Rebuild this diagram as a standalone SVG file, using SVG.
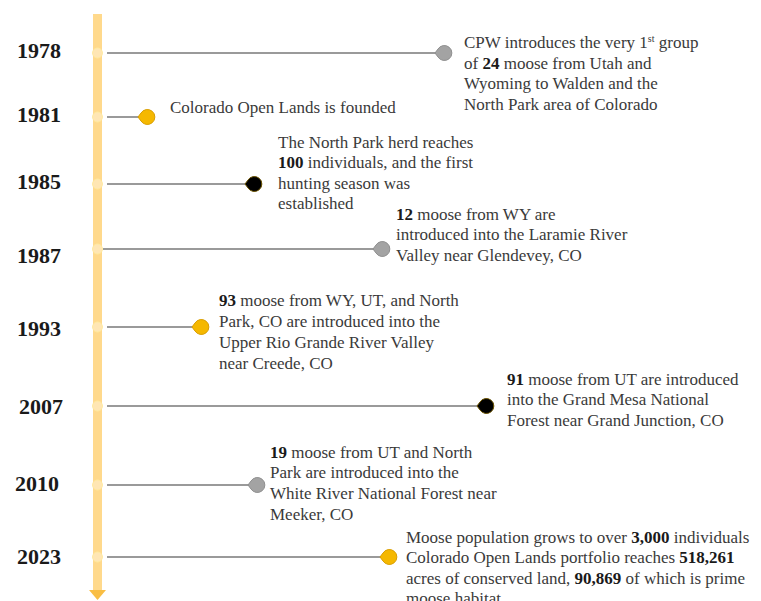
<svg xmlns="http://www.w3.org/2000/svg" width="761" height="601" viewBox="0 0 761 601">
<style>
.yr{font-family:"Liberation Serif","Times New Roman",serif;font-weight:bold;font-size:22px;fill:#1a1a1a}
.tx{font-family:"Liberation Serif","Times New Roman",serif;font-size:17px;fill:#3a3a3a}
.tx tspan.b{font-weight:bold;fill:#1a1a1a}
.ln{stroke:#9a9a9a;stroke-width:2;fill:none}
.ax{fill:#fff;fill-opacity:0.35;stroke:#ffeaa0;stroke-width:1}
.gray{fill:#a3a3a3;stroke:#8f8f8f;stroke-width:1}
.gold{fill:#f5b800;stroke:#d99e00;stroke-width:1}
.blk{fill:#000;stroke:#6b5300;stroke-width:1}
</style>
<defs>
<path id="pin" d="M-9,0 L-6,-4 A7.5,7.5 0 1 1 -6,4 Z"/>
</defs>
<g id="axis">
<rect x="93" y="14" width="9" height="580" fill="#ffd98c"/>
<path d="M89,590 L106,590 L97.5,600 Z" fill="#f9be44"/>
</g>
<g id="connectors">
<line class="ln" x1="107" y1="53" x2="436" y2="53"/>
<line class="ln" x1="107" y1="117" x2="139" y2="117"/>
<line class="ln" x1="107" y1="184" x2="246" y2="184"/>
<line class="ln" x1="103" y1="249" x2="374" y2="249"/>
<line class="ln" x1="107" y1="327" x2="193" y2="327"/>
<line class="ln" x1="107" y1="406" x2="478" y2="406"/>
<line class="ln" x1="107" y1="485" x2="249" y2="485"/>
<line class="ln" x1="107" y1="557" x2="381" y2="557"/>
</g>
<g id="axis-marks">
<circle class="ax" cx="97.5" cy="53" r="5"/>
<circle class="ax" cx="97.5" cy="117" r="5"/>
<circle class="ax" cx="97.5" cy="184" r="5"/>
<circle class="ax" cx="97.5" cy="249" r="5"/>
<circle class="ax" cx="97.5" cy="327" r="5"/>
<circle class="ax" cx="97.5" cy="406" r="5"/>
<circle class="ax" cx="97.5" cy="485" r="5"/>
<circle class="ax" cx="97.5" cy="557" r="5"/>
</g>
<g id="e1978">
<text class="yr" x="17" y="58">1978</text>
<use href="#pin" class="gray" x="444" y="53"/>
<text class="tx" x="464" y="48">CPW introduces the very 1<tspan font-size="10" dy="-6">st</tspan><tspan dy="6"> group</tspan></text>
<text class="tx" x="464" y="69">of <tspan class="b">24</tspan> moose from Utah and</text>
<text class="tx" x="464" y="89">Wyoming to Walden and the</text>
<text class="tx" x="464" y="110">North Park area of Colorado</text>
</g>
<g id="e1981">
<text class="yr" x="17" y="122">1981</text>
<use href="#pin" class="gold" x="147" y="117"/>
<text class="tx" x="170" y="113">Colorado Open Lands is founded</text>
</g>
<g id="e1985">
<text class="yr" x="17" y="189">1985</text>
<use href="#pin" class="blk" x="254" y="184"/>
<text class="tx" x="278" y="148">The North Park herd reaches</text>
<text class="tx" x="278" y="168"><tspan class="b">100</tspan> individuals, and the first</text>
<text class="tx" x="278" y="189">hunting season was</text>
<text class="tx" x="278" y="209">established</text>
</g>
<g id="e1987">
<text class="yr" x="17" y="263">1987</text>
<use href="#pin" class="gray" x="382" y="249"/>
<text class="tx" x="396" y="220"><tspan class="b">12</tspan> moose from WY are</text>
<text class="tx" x="396" y="240">introduced into the Laramie River</text>
<text class="tx" x="396" y="261">Valley near Glendevey, CO</text>
</g>
<g id="e1993">
<text class="yr" x="17" y="336">1993</text>
<use href="#pin" class="gold" x="201" y="327"/>
<text class="tx" x="219" y="306"><tspan class="b">93</tspan> moose from WY, UT, and North</text>
<text class="tx" x="219" y="327">Park, CO are introduced into the</text>
<text class="tx" x="219" y="348">Upper Rio Grande River Valley</text>
<text class="tx" x="219" y="369">near Creede, CO</text>
</g>
<g id="e2007">
<text class="yr" x="19" y="414">2007</text>
<use href="#pin" class="blk" x="486" y="406"/>
<text class="tx" x="507" y="385"><tspan class="b">91</tspan> moose from UT are introduced</text>
<text class="tx" x="507" y="405">into the Grand Mesa National</text>
<text class="tx" x="507" y="426">Forest near Grand Junction, CO</text>
</g>
<g id="e2010">
<text class="yr" x="15" y="491">2010</text>
<use href="#pin" class="gray" x="257" y="485"/>
<text class="tx" x="270" y="458"><tspan class="b">19</tspan> moose from UT and North</text>
<text class="tx" x="270" y="478">Park are introduced into the</text>
<text class="tx" x="270" y="499">White River National Forest near</text>
<text class="tx" x="270" y="520">Meeker, CO</text>
</g>
<g id="e2023">
<text class="yr" x="17" y="564">2023</text>
<use href="#pin" class="gold" x="389" y="557"/>
<text class="tx" x="406" y="543">Moose population grows to over <tspan class="b">3,000</tspan> individuals</text>
<text class="tx" x="406" y="563">Colorado Open Lands portfolio reaches <tspan class="b">518,261</tspan></text>
<text class="tx" x="406" y="584">acres of conserved land, <tspan class="b">90,869</tspan> of which is prime</text>
<text class="tx" x="406" y="604">moose habitat</text>
</g>
</svg>
